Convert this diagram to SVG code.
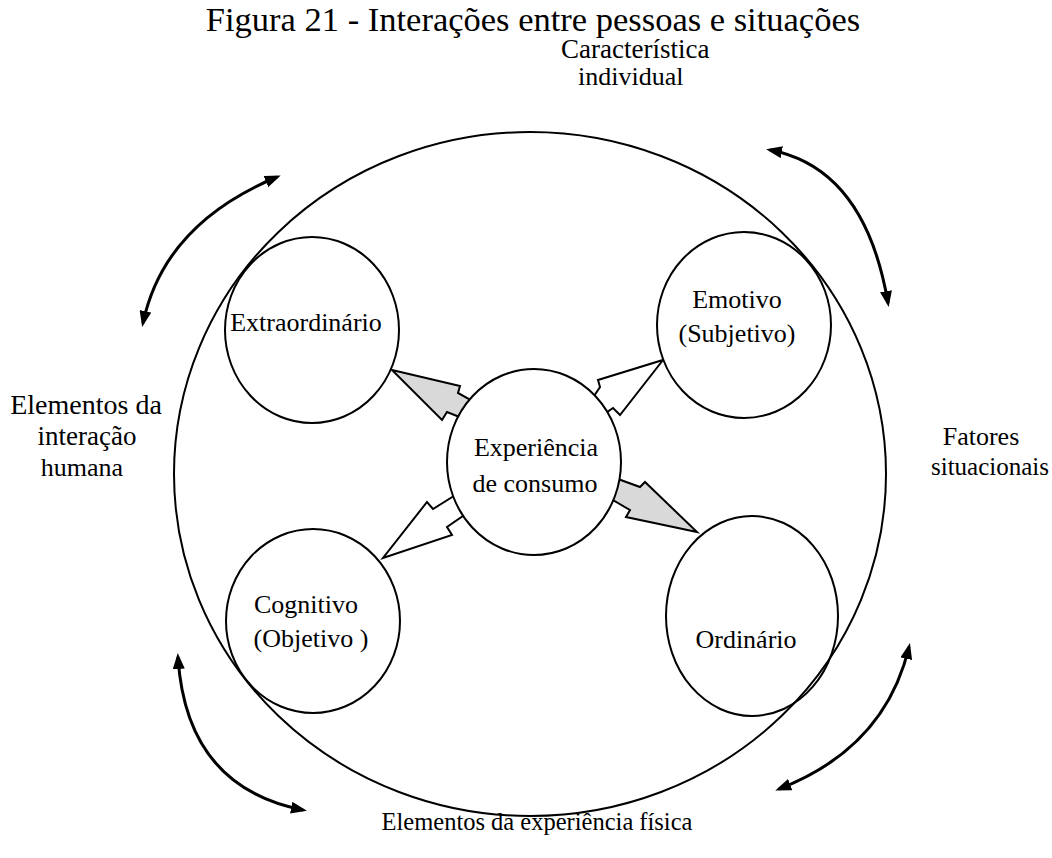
<svg xmlns="http://www.w3.org/2000/svg" width="1052" height="858" viewBox="0 0 1052 858" font-family="'Liberation Serif','Times New Roman',serif">
<defs>
<style>
text{font-family:"Liberation Serif","Times New Roman",serif;fill:#000}
.lbl{font-size:26px;text-anchor:middle}
.out{font-size:26px}
.node{fill:#fff;stroke:#000;stroke-width:2}
.big{fill:none;stroke:#000;stroke-width:2}
.curve{fill:none;stroke:#000;stroke-width:3}
.blkG{fill:#d9d9d9;stroke:#000;stroke-width:2;stroke-linejoin:miter}
.blkW{fill:#fff;stroke:#000;stroke-width:2;stroke-linejoin:miter}
</style>
<marker id="ah" viewBox="0 0 16 12" refX="12" refY="6" markerWidth="16" markerHeight="12" markerUnits="userSpaceOnUse" orient="auto-start-reverse">
<path d="M0,0 L16,6 L0,12 z" fill="#000"/>
</marker>
</defs>
<rect width="1052" height="858" fill="#fff"/>
<text x="533" y="31" style="font-size:34.5px;text-anchor:middle">Figura 21 - Interações entre pessoas e situações</text>
<text class="out" x="561" y="58" style="font-size:27px">Característica</text>
<text class="out" x="578" y="85">individual</text>
<text class="out" x="86" y="414" text-anchor="middle" style="font-size:28px">Elementos da</text>
<text class="out" x="87" y="445" text-anchor="middle" style="font-size:27px">interação</text>
<text class="out" x="82" y="476" text-anchor="middle">humana</text>
<text class="out" x="981" y="445" text-anchor="middle">Fatores</text>
<text class="out" x="990" y="475" text-anchor="middle" style="font-size:25px">situacionais</text>
<text class="out" x="537" y="830" text-anchor="middle" style="font-size:24.5px">Elementos da experiência física</text>
<g id="connectors">
<polygon class="blkG" points="392,370 460,386 458,393 478,404 467,420 447,412 442,420"/>
<polygon class="blkW" points="588,405 600,387 598,380 663,360 620,415 613,408 597,419"/>
<polygon class="blkW" points="465,489 433,509 427,502 383,558 452,535 447,527 476,507"/>
<polygon class="blkG" points="607,475 640,487 645,482 697,532 626,517 630,510 601,493"/>
<path class="curve" d="M143,323 Q164,224 277,177" marker-start="url(#ah)" marker-end="url(#ah)"/>
<path class="curve" d="M770,150 Q865,168 888,303" marker-start="url(#ah)" marker-end="url(#ah)"/>
<path class="curve" d="M178,657 Q186,787 303,810" marker-start="url(#ah)" marker-end="url(#ah)"/>
<path class="curve" d="M909,647 Q885,748 779,789" marker-start="url(#ah)" marker-end="url(#ah)"/>
</g>
<g id="n-extra"><ellipse class="node" cx="312" cy="330" rx="87" ry="93"/><text class="lbl" x="306" y="331">Extraordinário</text></g>
<g id="n-emotivo"><ellipse class="node" cx="744" cy="325" rx="87" ry="93"/><text class="lbl" x="737" y="308">Emotivo</text><text class="lbl" x="737" y="342">(Subjetivo)</text></g>
<g id="n-exp"><ellipse class="node" cx="534" cy="462" rx="87" ry="93"/><text class="lbl" x="536" y="456">Experiência</text><text class="lbl" x="535" y="492">de consumo</text></g>
<g id="n-cog"><ellipse class="node" cx="313" cy="621" rx="87" ry="92"/><text class="lbl" x="306" y="613">Cognitivo</text><text class="lbl" x="311" y="647">(Objetivo )</text></g>
<g id="n-ord"><ellipse class="node" cx="752" cy="616" rx="86" ry="100"/><text class="lbl" x="746" y="648">Ordinário</text></g>
<g id="n-outer"><ellipse class="big" cx="530" cy="474" rx="356" ry="342"/></g>
</svg>
